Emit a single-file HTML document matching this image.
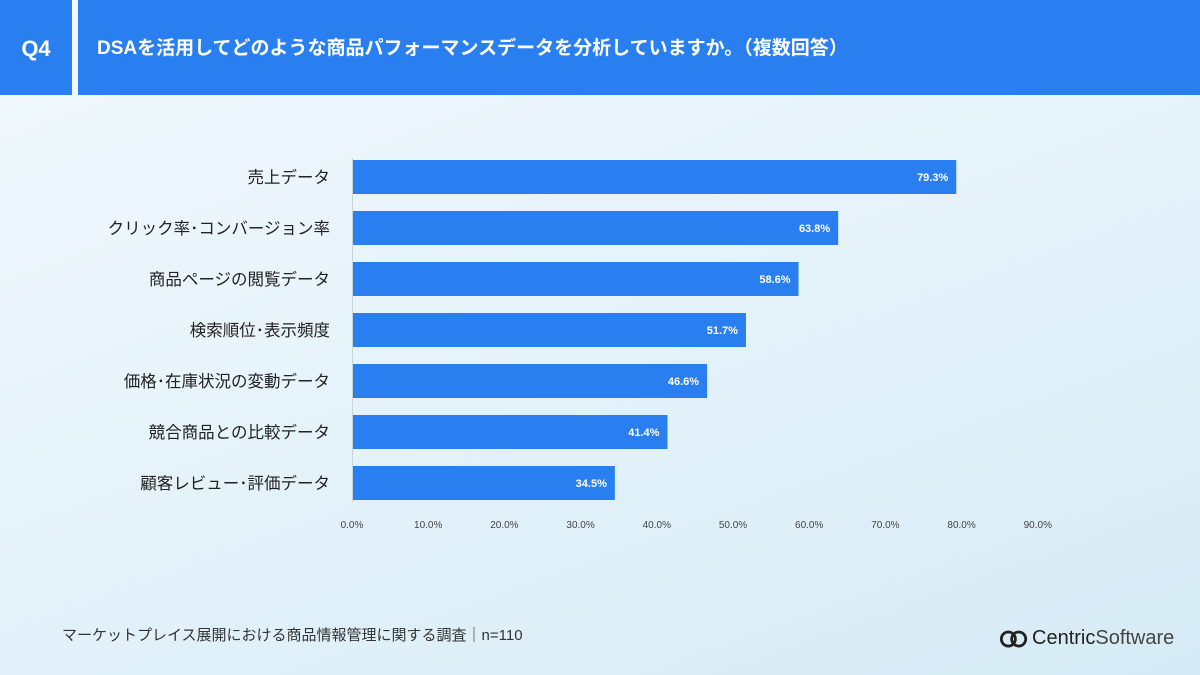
<!DOCTYPE html>
<html><head><meta charset="utf-8"><style>
body{margin:0;width:1200px;height:675px;overflow:hidden;font-family:"Liberation Sans","Noto Sans CJK JP",sans-serif;background:linear-gradient(160deg,#f2f9fd 0%,#e6f3fa 45%,#d6ebf6 100%);position:relative}
.hdr{position:absolute;top:0;height:95px;background:#2a7ff0;color:#fff;font-weight:bold}
</style></head><body>
<div class="hdr" style="left:0;width:72px;font-size:22px;line-height:97px;text-align:center">Q4</div>
<div class="hdr" style="left:78px;width:1122px;font-size:19px;line-height:97px;padding-left:19px;box-sizing:border-box">DSAを活用してどのような商品パフォーマンスデータを分析していますか。（複数回答）</div>
<svg id="chart" width="1200" height="675" style="position:absolute;left:0;top:0"></svg>
<div style="position:absolute;left:62px;top:624px;font-size:15px;color:#333">マーケットプレイス展開における商品情報管理に関する調査｜n=110</div>
<div style="position:absolute;left:999px;top:627px;font-size:20px;color:#222;white-space:nowrap;display:flex;align-items:center">
<svg width="30" height="20" viewBox="0 0 32 20" style="margin-right:3px"><circle cx="10" cy="10" r="7.5" fill="none" stroke="#222" stroke-width="3"/><circle cx="21" cy="10" r="7.5" fill="none" stroke="#222" stroke-width="3"/></svg>
<span>Centric</span><span style="color:#444">Software</span></div>
<script>
const categories=["売上データ","クリック率・コンバージョン率","商品ページの閲覧データ","検索順位・表示頻度","価格・在庫状況の変動データ","競合商品との比較データ","顧客レビュー・評価データ"];
const values=[79.3,63.8,58.6,51.7,46.6,41.4,34.5];
const ticks=[0,10,20,30,40,50,60,70,80,90];
const svg=document.getElementById('chart');const NS='http://www.w3.org/2000/svg';
const x=v=>352+v*7.62;const y=i=>177+i*51;
function mk(t,a){const e=document.createElementNS(NS,t);for(const k in a)e.setAttribute(k,a[k]);svg.appendChild(e);return e;}
const ax=mk('line',{x1:352.5,x2:352.5,y1:158,y2:502,stroke:'#c8d4dc','stroke-width':1});


ticks.forEach(t=>{const e=mk('text',{x:x(t),y:528,'font-size':10,fill:'#444','text-anchor':'middle'});e.textContent=t.toFixed(1)+'%';

});
values.forEach((v,i)=>{
const r=mk('rect',{x:353,y:y(i)-17,width:x(v)-353,height:34,fill:'#2a7ff0'});


const l=mk('text',{x:x(v)-8,y:y(i)+4,'font-size':11,'font-weight':'bold',fill:'#fff','text-anchor':'end'});l.textContent=v.toFixed(1)+'%';


const c=mk('text',{x:330,y:y(i)+6,'font-size':16.5,fill:'#222','text-anchor':'end'});c.textContent=categories[i].replace(/・/g,'･');


});
</script>
</body></html>
